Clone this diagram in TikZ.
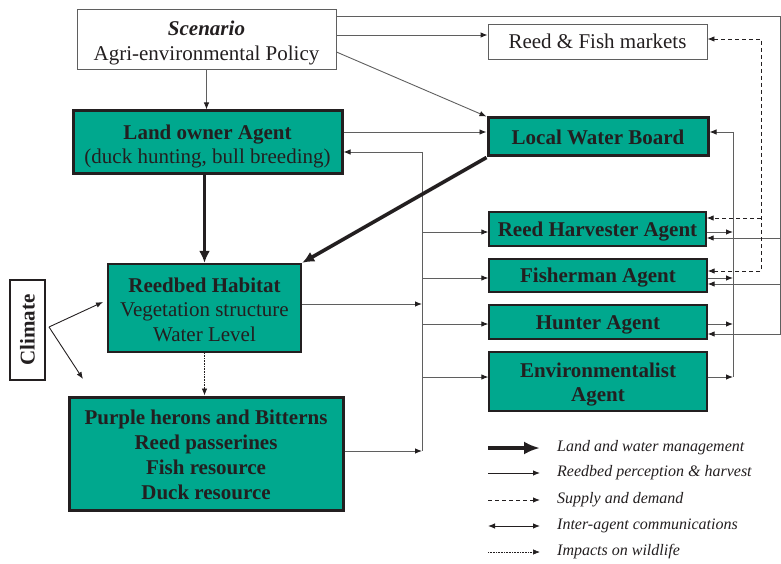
\documentclass[tikz,border=0pt]{standalone}
\usepackage{fontspec}
\setmainfont{Liberation Serif}
\usetikzlibrary{arrows.meta}

\definecolor{reedgreen}{RGB}{0,168,142}
\definecolor{ink}{RGB}{35,31,32}
\definecolor{wire}{RGB}{95,95,95}

% centred lines of box text, lowered a little inside the box
\newcommand\boxlines[2][3pt]{\raisebox{-#1}[\height][\depth]{\begin{tabular}{@{}c@{}}#2\end{tabular}}}

\begin{document}
\begin{tikzpicture}[x=1pt,y=-1pt,
  font=\fontsize{21}{24.5}\selectfont,
  lbl/.style={text=ink, align=center, inner sep=0pt},
  plainbox/.style={lbl, draw=wire, line width=0.9pt, fill=white},
  agentbox/.style={lbl, draw=ink, line width=1.3pt, fill=reedgreen, font=\fontsize{21}{24.5}\selectfont\bfseries},
  heavybox/.style={lbl, draw=ink, line width=3pt, fill=reedgreen},
  habitatbox/.style={lbl, draw=ink, line width=2.4pt, fill=reedgreen},
  tip/.style={-{Latex[length=7pt,width=5.5pt,color=ink]}},
  bothtips/.style={{Latex[length=7pt,width=5.5pt,color=ink]}-{Latex[length=7pt,width=5.5pt,color=ink]}},
  wireline/.style={draw=wire, line width=0.9pt},
  wirearrow/.style={wireline, tip},
  dashwire/.style={draw=ink, line width=0.9pt, dash pattern=on 4pt off 3pt},
  dotwire/.style={draw=ink, line width=0.7pt, dash pattern=on 0.8pt off 0.8pt},
  heavyarrow/.style={draw=ink, line width=3.6pt, -{Latex[length=12pt,width=11pt]}},
  legendtext/.style={text=ink, inner sep=0pt, anchor=west, font=\fontsize{16}{18}\selectfont\itshape}
]
\useasboundingbox (0,0) rectangle (781,564);

% ---- boxes ----
\node[plainbox, minimum width=259pt, minimum height=60pt] (scen) at (206.5,39)
  {\boxlines[4pt]{\textbf{\textit{Scenario}}\\Agri-environmental Policy}};
\node[plainbox, minimum width=219pt, minimum height=35pt] (markets) at (597.5,41.5)
  {\boxlines[2.5pt]{Reed \& Fish markets}};
\node[heavybox, minimum width=269pt, minimum height=63pt] (land) at (207.5,142.5)
  {\boxlines[4pt]{\textbf{Land owner Agent}\\(duck hunting, bull breeding)}};
\node[heavybox, minimum width=220pt, minimum height=38pt, font=\fontsize{21}{24.5}\selectfont\bfseries] (water) at (598,137)
  {\boxlines[3pt]{Local Water Board}};
\node[agentbox, minimum width=217pt, minimum height=34pt] (harv) at (597.5,229) {\boxlines{Reed Harvester Agent}};
\node[agentbox, minimum width=218pt, minimum height=33pt] (fish) at (598,275.5) {\boxlines[2pt]{Fisherman Agent}};
\node[agentbox, minimum width=218pt, minimum height=34pt] (hunt) at (598,322) {\boxlines{Hunter Agent}};
\node[agentbox, minimum width=218pt, minimum height=59pt] (env) at (598,381.5) {\boxlines{Environmentalist\\Agent}};
\node[habitatbox, minimum width=193pt, minimum height=88pt] (reed) at (204.5,308)
  {\boxlines[4pt]{\textbf{Reedbed Habitat}\\Vegetation structure\\Water Level}};
\node[heavybox, minimum width=274pt, minimum height=113pt, font=\fontsize{21}{25}\selectfont\bfseries] (birds) at (206,453.5)
  {\boxlines[3pt]{Purple herons and Bitterns\\Reed passerines\\Fish resource\\Duck resource}};
\node[draw=ink, line width=1.2pt, fill=white, text=ink, inner sep=0pt, minimum width=35pt, minimum height=100pt] (clim) at (27.5,330)
  {\rotatebox{90}{\textbf{Climate}}};

% ---- routing points ----
\coordinate (rtop) at (780,16);
\coordinate (rbot) at (780,334);
\coordinate (rh) at (780,238);
\coordinate (rf) at (780,284);
\coordinate (lb1) at (422,152);
\coordinate (lb2) at (422,451);
\coordinate (lbh) at (422,232);
\coordinate (lbf) at (422,278);
\coordinate (lbu) at (422,324);
\coordinate (lbe) at (422,377);
\coordinate (lbr) at (422,304);
\coordinate (rb1) at (733,132);
\coordinate (rb2) at (733,377);
\coordinate (rbh) at (733,232);
\coordinate (rbf) at (733,278);
\coordinate (rbu) at (733,324);
\coordinate (d1) at (761,39);
\coordinate (d2) at (761,271);
\coordinate (dh) at (761,218);
\coordinate (cfork) at (49,327);
\coordinate (cup) at (103,302);
\coordinate (cdown) at (83,379);

% ---- scenario links ----
\draw[wirearrow] (scen.south) -- (scen.south |- land.north);
\draw[wirearrow] ([yshift=4pt]scen.east) -- ([yshift=6.5pt]markets.west);
\draw[wirearrow] ([yshift=-13pt]scen.east) -- (water.north west);
\draw[wirearrow] ([yshift=23pt]scen.east) -- (rtop) -- (rbot) -- ([yshift=-12pt]hunt.east);
\draw[wirearrow] (rh) -- ([yshift=-9pt]harv.east);
\draw[wirearrow] (rf) -- ([yshift=-8.5pt]fish.east);

% ---- land owner and water board ----
\draw[wirearrow] ([yshift=10.5pt]land.east) -- ([yshift=5pt]water.west);

% ---- perception bus on the left ----
\draw[wireline] (lb1) -- (lb2);
\draw[wirearrow] (lb1) -- ([yshift=-9.5pt]land.east);
\draw[wirearrow] (lbh) -- ([yshift=-3pt]harv.west);
\draw[wirearrow] (lbf) -- ([yshift=-2.5pt]fish.west);
\draw[wirearrow] (lbu) -- ([yshift=-2pt]hunt.west);
\draw[wirearrow] (lbe) -- ([yshift=4.5pt]env.west);
\draw[wirearrow] ([yshift=4pt]reed.east) -- (lbr);
\draw[wirearrow] ([yshift=2.5pt]birds.east) -- (lb2);

% ---- communication bus on the right ----
\draw[wireline] (rb1) -- (rb2);
\draw[wirearrow] (rb1) -- ([yshift=5pt]water.east);
\draw[wirearrow] ([yshift=-3pt]harv.east) -- (rbh);
\draw[wirearrow] ([yshift=-2.5pt]fish.east) -- (rbf);
\draw[wirearrow] ([yshift=-2pt]hunt.east) -- (rbu);
\draw[wirearrow] ([yshift=4.5pt]env.east) -- (rb2);

% ---- supply and demand ----
\draw[dashwire, bothtips]
  ([yshift=2.5pt]markets.east) -- (d1) -- (d2) -- ([yshift=4.5pt]fish.east);
\draw[dashwire, tip] (dh) -- ([yshift=11pt]harv.east);

% ---- management ----
\draw[heavyarrow] (land.south -| reed.north) -- (reed.north);
\draw[heavyarrow] (water.south west) -- (reed.north east);

% ---- wildlife ----
\draw[dotwire, tip] (reed.south) -- (reed.south |- birds.north);

% ---- climate ----
\draw[draw=ink, line width=0.9pt, tip] (cfork) -- (cup);
\draw[draw=ink, line width=0.9pt, tip] (cfork) -- (cdown);

% ---- legend ----
\coordinate (la1) at (488,448); \coordinate (lb1e) at (540,448);
\coordinate (la2) at (488,473); \coordinate (lb2e) at (540,473);
\coordinate (la3) at (488,500); \coordinate (lb3e) at (540,500);
\coordinate (la4) at (488,526); \coordinate (lb4e) at (540,526);
\coordinate (la5) at (488,552); \coordinate (lb5e) at (540,552);
\draw[draw=ink, line width=4pt, -{Latex[length=16pt,width=13pt]}] (la1) -- (lb1e);
\draw[draw=ink, line width=0.9pt, tip] (la2) -- (lb2e);
\draw[dashwire, tip] (la3) -- (lb3e);
\draw[draw=ink, line width=0.9pt, bothtips] (la4) -- (lb4e);
\draw[dotwire, tip] (la5) -- (lb5e);
\node[legendtext] (lt1) at (557,448) {Land and water management};
\node[legendtext] (lt2) at (557,473) {Reedbed perception \& harvest};
\node[legendtext] (lt3) at (557,500) {Supply and demand};
\node[legendtext] (lt4) at (557,526) {Inter-agent communications};
\node[legendtext] (lt5) at (557,552) {Impacts on wildlife};
\end{tikzpicture}
\end{document}
